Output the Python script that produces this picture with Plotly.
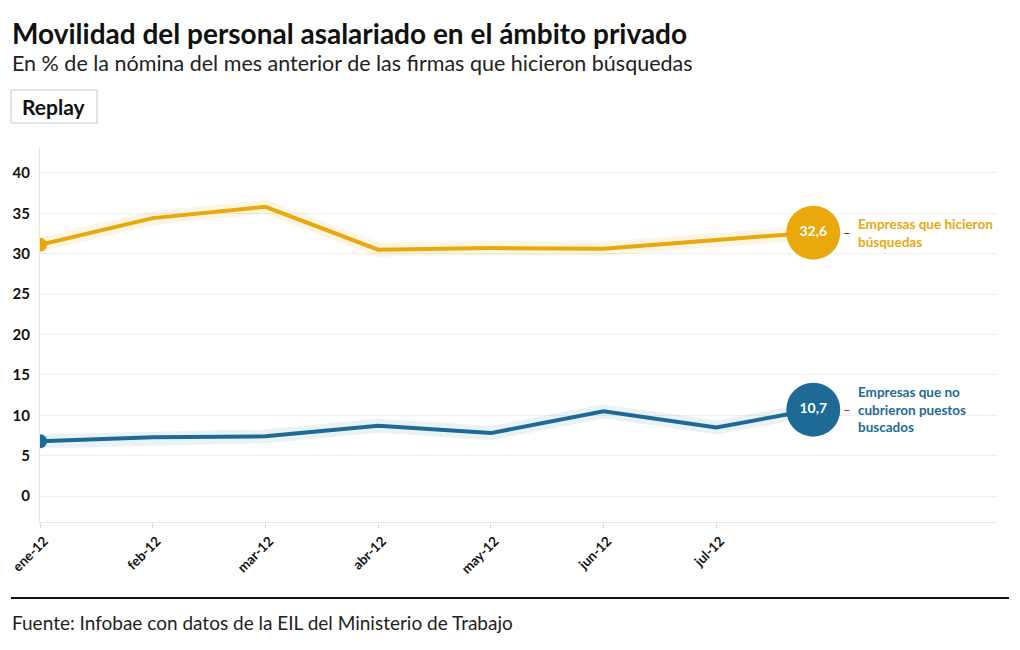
import plotly.graph_objects as go

# ---- data ----
month_labels = ["ene-12", "feb-12", "mar-12", "abr-12", "may-12", "jun-12", "jul-12"]
month_pos = [0, 1, 2, 3, 4, 5, 6]
x_points = [0, 1, 2, 3, 4, 5, 6, 6.86]
busquedas = [31.1, 34.4, 35.8, 30.5, 30.7, 30.6, 31.7, 32.6]
no_cubiertos = [6.8, 7.3, 7.4, 8.7, 7.8, 10.5, 8.5, 10.7]
series_names = ["Empresas que hicieron<br>búsquedas", "Empresas que no<br>cubrieron puestos<br>buscados"]
series_values = [busquedas, no_cubiertos]
colors = ["#E9A80C", "#1E6A97"]
halos = ["rgba(233,168,12,0.11)", "rgba(30,106,151,0.09)"]
dash_colors = ["#6b1f1f", "#c8102e"]
value_labels = ["32,6", "10,7"]

FONT = "Lato"
OFF = 8  # page body margin
W, H = 1020 - OFF, 650 - OFF
# plot area in page pixels: x 40..997, y 147..522
ML, MR = 40 - OFF, W - (997 - OFF)
MT, MB = 147 - OFF, H - (522 - OFF)
PW, PH = W - ML - MR, H - MT - MB


def px(xp):
    return (xp - OFF - ML) / PW


def py(yp):
    return (H - MB - (yp - OFF)) / PH


fig = go.Figure()

for vals, col, halo in zip(series_values, colors, halos):
    fig.add_trace(go.Scatter(x=x_points, y=vals, mode="lines",
                             line=dict(color=halo, width=14), hoverinfo="skip"))
    fig.add_trace(go.Scatter(x=x_points, y=vals, mode="lines",
                             line=dict(color=col, width=4)))
    fig.add_trace(go.Scatter(x=x_points[:1], y=vals[:1], mode="markers",
                             marker=dict(color=col, size=14)))

for vals, col, name, dcol, vlab in zip(series_values, colors, series_names, dash_colors, value_labels):
    fig.add_trace(go.Scatter(x=x_points[-1:], y=vals[-1:], mode="markers+text",
                             marker=dict(color=col, size=54),
                             text=[vlab], textposition="middle center",
                             textfont=dict(family=FONT, size=14, color="white", weight="bold"),
                             cliponaxis=False))
    fig.add_annotation(x=x_points[-1], y=vals[-1], xref="x", yref="y",
                       text="–", showarrow=False, xanchor="center", yanchor="middle",
                       xshift=34, font=dict(family=FONT, size=13, color=dcol))
    fig.add_annotation(x=x_points[-1], y=vals[-1], xref="x", yref="y",
                       text="<b>" + name + "</b>", showarrow=False, xanchor="left",
                       yanchor="middle", xshift=43, align="left",
                       font=dict(family=FONT, size=13.5, color=col))

# titles
fig.add_annotation(x=px(10), y=py(14), xref="paper", yref="paper", xanchor="left", yanchor="top",
                   text="<b>Movilidad del personal asalariado en el ámbito privado</b>",
                   showarrow=False, font=dict(family=FONT, size=28, color="#111"))
fig.add_annotation(x=px(10), y=py(48), xref="paper", yref="paper", xanchor="left", yanchor="top",
                   text="En % de la nómina del mes anterior de las firmas que hicieron búsquedas",
                   showarrow=False, font=dict(family=FONT, size=21.5, color="#222"))
# replay button
fig.add_shape(type="rect", xref="paper", yref="paper", x0=px(11), x1=px(97), y0=py(90), y1=py(123),
              line=dict(color="#c8c8c8", width=1), fillcolor="white")
fig.add_annotation(x=px(54), y=py(106.5), xref="paper", yref="paper", xanchor="center", yanchor="middle",
                   text="<b>Replay</b>", showarrow=False, font=dict(family=FONT, size=21, color="#111"))
# footer
fig.add_shape(type="line", xref="paper", yref="paper", x0=px(11), x1=px(1009), y0=py(598), y1=py(598),
              line=dict(color="#111", width=2))
fig.add_annotation(x=px(10), y=py(622), xref="paper", yref="paper", xanchor="left", yanchor="middle",
                   text="Fuente: Infobae con datos de la EIL del Ministerio de Trabajo",
                   showarrow=False, font=dict(family=FONT, size=19, color="#222"))

fig.update_layout(
    width=W, height=H, margin=dict(l=ML, r=MR, t=MT, b=MB, autoexpand=False),
    paper_bgcolor="white", plot_bgcolor="white", showlegend=False,
    font=dict(family=FONT),
    xaxis=dict(range=[0, 8.49], tickmode="array", tickvals=month_pos, ticktext=month_labels,
               tickangle=-45, tickfont=dict(family=FONT, size=13.5, color="#111", weight="bold"),
               showgrid=False, zeroline=False, showline=True, linecolor="#e6e6e6", linewidth=1,
               ticks="outside", ticklen=5, tickcolor="#dddddd", automargin=False,
               ticklabeloverflow="allow", ticklabelshift=4),
    yaxis=dict(range=[-3.2, 43.2], tickmode="array", tickvals=list(range(0, 45, 5)),
               tickfont=dict(family=FONT, size=15, color="#111", weight="bold"),
               showgrid=True, gridcolor="#efefef", gridwidth=1, zeroline=False,
               showline=True, linecolor="#e6e6e6", linewidth=1, ticks="", ticklabelstandoff=6,
               automargin=False, ticklabeloverflow="allow"),
)

fig.write_html("out.html")
